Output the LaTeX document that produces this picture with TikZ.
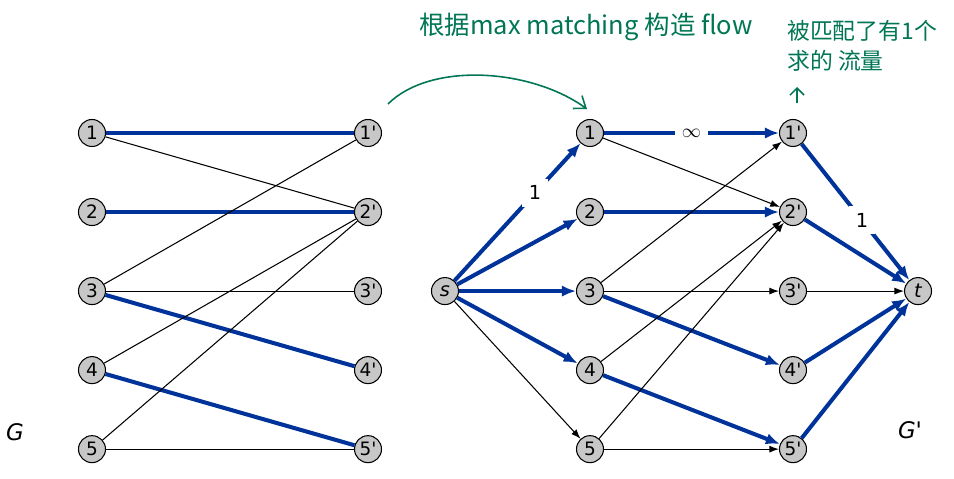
\documentclass[tikz,border=0pt]{standalone}
\usepackage{fontspec}
\setmainfont{DejaVu Sans}
\newfontfamily\cjkfont{Noto Sans CJK SC}
\usetikzlibrary{arrows.meta, positioning}
\definecolor{match-blue}{RGB}{0,51,153}
\definecolor{note-green}{RGB}{0,118,84}
\colorlet{vertex-grey}{black!22}
\newcommand{\pr}{\textquotesingle}
\tikzset{%
    vertex/.style={%
        circle,
        fill=vertex-grey,
        draw=black, line width=0.6pt,
        minimum size=0.54cm,
        inner sep=0pt,
        font=\fontsize{10.5}{11}\selectfont,
    },
    terminal/.style={%
        vertex,
        font=\fontsize{11}{11}\selectfont\itshape,
    },
    match/.style={%
        match-blue, line width=2.3pt,
    },
    plain/.style={%
        black, line width=0.6pt,
    },
    flow/.style={%
        match, -{Latex[length=8pt, width=6.5pt]},
    },
    weak/.style={%
        plain, -{Latex[length=5.5pt, width=4pt]},
    },
    caplabel/.style={%
        fill=white, text=black, inner sep=4pt,
        font=\fontsize{11}{11}\selectfont,
    },
    note/.style={%
        note-green, line width=0.9pt,
    },
    graphname/.style={%
        font=\fontsize{13}{13}\selectfont\itshape,
    },
}

\begin{document}
\begin{tikzpicture}[x=0.02cm, y=-0.02cm, node distance=1.02cm]
  \useasboundingbox (0,0) rectangle (954,479);

  \coordinate (left_top) at (92,133);
  \coordinate (right_top) at (368,133);
  \coordinate (mid_top) at (590,133);
  \coordinate (prime_top) at (793,133);

  % G
  \node [vertex] at (left_top) (a1) {1};
  \node [vertex, below=of a1] (a2) {2};
  \node [vertex, below=of a2] (a3) {3};
  \node [vertex, below=of a3] (a4) {4};
  \node [vertex, below=of a4] (a5) {5};

  \node [vertex] at (right_top) (b1) {1\pr};
  \node [vertex, below=of b1] (b2) {2\pr};
  \node [vertex, below=of b2] (b3) {3\pr};
  \node [vertex, below=of b3] (b4) {4\pr};
  \node [vertex, below=of b4] (b5) {5\pr};

  \node [graphname] at (15,432) (g_name) {G};

  \draw[match] (a1) -- (b1);
  \draw[match] (a2) -- (b2);
  \draw[match] (a3) -- (b4);
  \draw[match] (a4) -- (b5);
  \draw[plain] (a1) -- (b2);
  \draw[plain] (a3) -- (b1);
  \draw[plain] (a3) -- (b3);
  \draw[plain] (a4) -- (b2);
  \draw[plain] (a5) -- (b2);
  \draw[plain] (a5) -- (b5);

  % G'
  \node [vertex] at (mid_top) (u1) {1};
  \node [vertex, below=of u1] (u2) {2};
  \node [vertex, below=of u2] (u3) {3};
  \node [vertex, below=of u3] (u4) {4};
  \node [vertex, below=of u4] (u5) {5};

  \node [vertex] at (prime_top) (v1) {1\pr};
  \node [vertex, below=of v1] (v2) {2\pr};
  \node [vertex, below=of v2] (v3) {3\pr};
  \node [vertex, below=of v3] (v4) {4\pr};
  \node [vertex, below=of v4] (v5) {5\pr};

  \node [terminal, left=2.34cm of u3] (src) {s};
  \node [terminal, right=1.94cm of v3] (sink) {t};

  \node [graphname] at (910,430) (gp_name) {G\pr};

  \draw[flow] (src) -- node[caplabel, pos=0.64] {1} (u1);
  \draw[flow] (src) -- (u2);
  \draw[flow] (src) -- (u3);
  \draw[flow] (src) -- (u4);
  \draw[weak] (src) -- (u5);

  \draw[flow] (u1) -- node[caplabel] {$\infty$} (v1);
  \draw[flow] (u2) -- (v2);
  \draw[flow] (u3) -- (v4);
  \draw[flow] (u4) -- (v5);
  \draw[weak] (u1) -- (v2);
  \draw[weak] (u3) -- (v1);
  \draw[weak] (u3) -- (v3);
  \draw[weak] (u4) -- (v2);
  \draw[weak] (u5) -- (v2);
  \draw[weak] (u5) -- (v5);

  \draw[flow] (v1) -- node[caplabel, pos=0.56] {1} (sink);
  \draw[flow] (v2) -- (sink);
  \draw[weak] (v3) -- (sink);
  \draw[flow] (v4) -- (sink);
  \draw[flow] (v5) -- (sink);

  % notes
  \node [note-green, font=\fontsize{14.5}{15}\selectfont\cjkfont] at (586,27) (note_top) {根据max matching 构造 flow};
  \node [note-green, font=\fontsize{13}{17}\selectfont\cjkfont, align=left, anchor=north west] at (781,14) (note_side) {被匹配了有1个\\求的 流量};

  \coordinate (curve_start) at (388,104);
  \coordinate (curve_end) at (587,109);
  \draw[note, -{Straight Barb[length=6pt, width=9pt]}] (curve_start) .. controls (430,62) and (530,68) .. (curve_end);

  \coordinate (up_start) at (797,103);
  \coordinate (up_end) at (797,87);
  \draw[note, -{Straight Barb[length=4pt, width=8pt]}] (up_start) -- (up_end);
\end{tikzpicture}
\end{document}
